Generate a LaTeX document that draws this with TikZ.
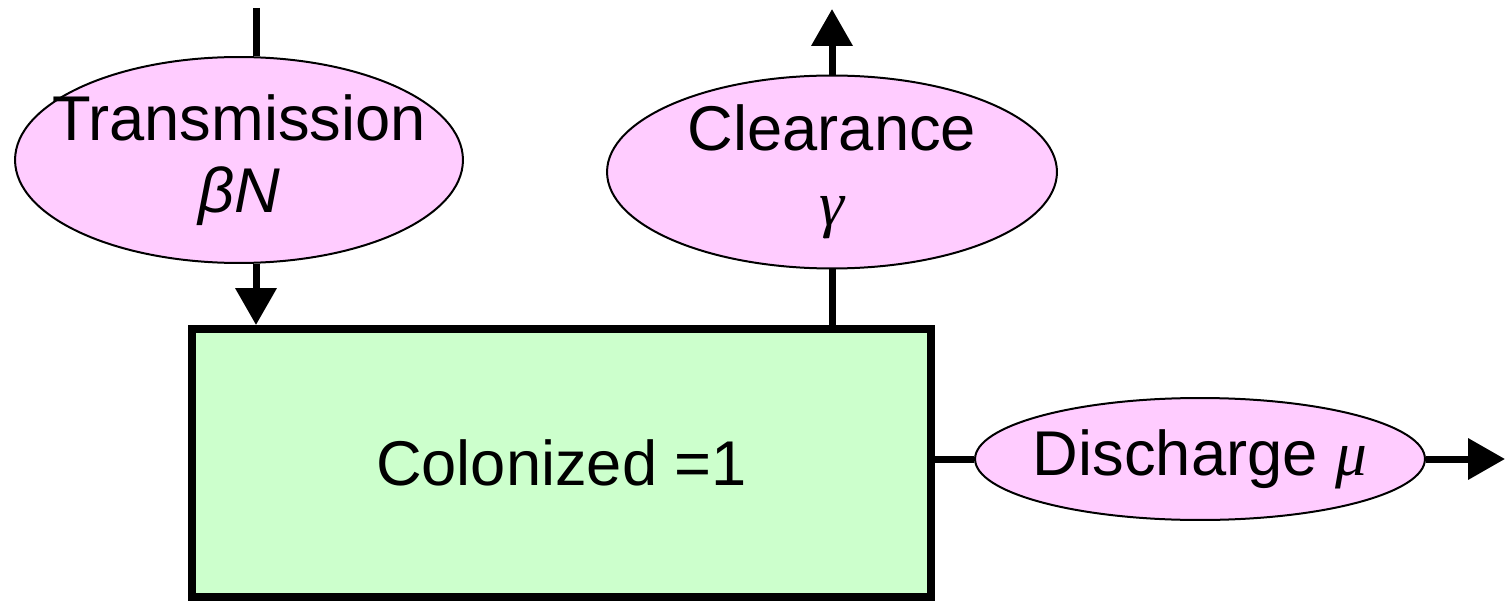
\documentclass[tikz,border=0pt]{standalone}
\usepackage{fontspec}
\setmainfont{Liberation Sans}
\newfontfamily\greekserif{Liberation Serif}
\usepackage{tikz}
\usetikzlibrary{arrows.meta,positioning,shapes.geometric}

\tikzset{
  flowrate/.style={ellipse, draw=black, line width=0.04cm, fill=rateFill,
    inner ysep=0pt, inner xsep=-0.7cm, align=center, font=\fontsize{36}{41}\selectfont},
  statebox/.style={rectangle, draw=black, line width=0.16cm, fill=stateFill,
    font=\fontsize{36}{41}\selectfont},
  flow/.style={line width=0.14cm, -{Triangle[width=0.8cm,length=0.74cm]}},
  plainflow/.style={line width=0.14cm}
}
\definecolor{rateFill}{HTML}{FFCCFF}
\definecolor{stateFill}{HTML}{CCFFCC}

\begin{document}
\begin{tikzpicture}[x=0.02cm, y=-0.02cm]
  \useasboundingbox (0,0) rectangle (1510,601);
  % Compartment
  \node[statebox, minimum width=14.78cm, minimum height=5.36cm] (colon) at (561.5,463) {Colonized =1};
  % Rates
  \node[flowrate, minimum width=8.96cm, minimum height=4.12cm] (trans) at (239,160)
    {Transmission\\\textit{βN}};
  \node[flowrate, minimum width=9cm, minimum height=3.86cm] (clear) at (832,172)
    {Clearance\\[2pt]{\greekserif\itshape γ}};
  \node[flowrate, inner xsep=-1.1cm, minimum width=9cm, minimum height=2.44cm] (disch) at (1200,459)
    {Discharge {\greekserif\itshape μ}};
  % Free ends
  \coordinate (src) at (256,8);
  \coordinate (gone) at (832,9);
  \coordinate (out) at (1505,459);

  \draw[plainflow] (src) -- (src |- trans.north);
  \draw[flow] (src |- trans.south) -- (src |- colon.north); % into the box
  \draw[plainflow] (colon.north -| clear.south) -- (clear.south);
  \draw[flow] (clear.north) -- (gone);
  \draw[plainflow] (colon.east |- disch.west) -- (disch.west);
  \draw[flow] (disch.east) -- (out);
\end{tikzpicture}
\end{document}
